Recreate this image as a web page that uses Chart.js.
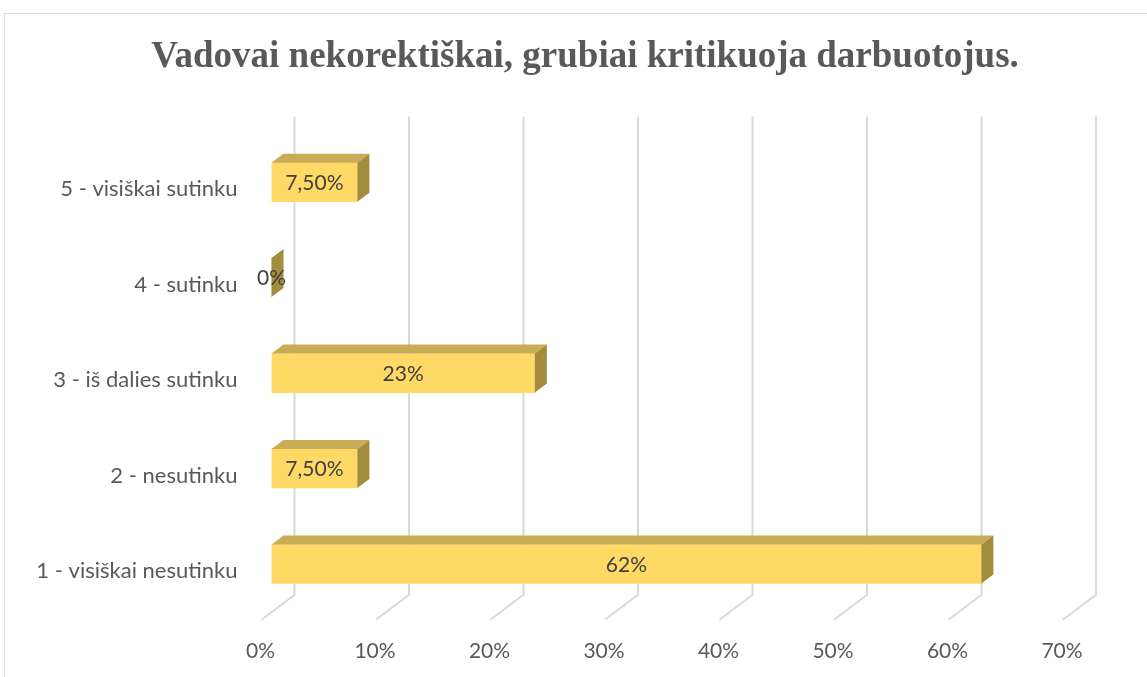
<!DOCTYPE html>
<html>
<head>
<meta charset="utf-8">
<script src="https://cdn.jsdelivr.net/npm/chart.js@4.4.1/dist/chart.umd.min.js"></script>
<style>
    body { margin: 0; background: #fff; }
</style>
</head>
<body>
<canvas id="surveyChart" width="1147" height="677"></canvas>
<script>
const chartTitle = 'Vadovai nekorektiškai, grubiai kritikuoja darbuotojus.';
const categories = ['5 - visiškai sutinku', '4 - sutinku', '3 - iš dalies sutinku', '2 - nesutinku', '1 - visiškai nesutinku'];
const values = [7.5, 0, 23, 7.5, 62];
const valueLabels = ['7,50%', '0%', '23%', '7,50%', '62%'];
const xMax = 70;
const xStep = 10;

const frontColor = '#FFD966';
const topColor = '#C9AD56';
const sideColor = '#A48C3F';
const gridColor = '#D9D9D9';

// 3D look: depth of a bar, and of the whole floor
const barDepthX = 12, barDepthY = -9;
const wallOffset = 23;

const bar3d = {
    id: 'bar3d',
    beforeDraw(chart) {
        const ctx = chart.ctx;
        ctx.save();
        ctx.strokeStyle = gridColor;
        ctx.lineWidth = 1;
        ctx.strokeRect(4.5, 13.5, 1300, 800);
        // title, centred a bit right of the canvas like the original
        ctx.font = 'bold 37px "Liberation Serif"';
        ctx.fillStyle = '#595959';
        ctx.textAlign = 'center';
        ctx.textBaseline = 'alphabetic';
        ctx.fillText(chartTitle, 585, 67);
        ctx.restore();
    },
    beforeDatasetsDraw(chart) {
        const ctx = chart.ctx;
        const area = chart.chartArea;
        const xScale = chart.scales.x;
        const wallTop = area.top - 18;
        const floorBack = area.bottom - 17;
        ctx.save();
        ctx.strokeStyle = gridColor;
        ctx.lineWidth = 2;
        for (let v = 0; v <= xMax; v += xStep) {
            const xb = xScale.getPixelForValue(v) + wallOffset;
            ctx.beginPath();
            ctx.moveTo(xb, wallTop);
            ctx.lineTo(xb, floorBack);
            ctx.lineTo(xb - 33, floorBack + 25);
            ctx.stroke();
        }
        ctx.restore();
    },
    afterDatasetsDraw(chart) {
        const ctx = chart.ctx;
        const bars = chart.getDatasetMeta(0).data;
        ctx.save();
        bars.forEach(bar => {
            const top = bar.y - bar.height / 2;
            const bottom = bar.y + bar.height / 2;
            // top face
            if (bar.x > bar.base) {
                ctx.fillStyle = topColor;
                ctx.beginPath();
                ctx.moveTo(bar.base, top);
                ctx.lineTo(bar.x, top);
                ctx.lineTo(bar.x + barDepthX, top + barDepthY);
                ctx.lineTo(bar.base + barDepthX, top + barDepthY);
                ctx.closePath();
                ctx.fill();
            }
            // side face
            ctx.fillStyle = sideColor;
            ctx.beginPath();
            ctx.moveTo(bar.x, top);
            ctx.lineTo(bar.x + barDepthX, top + barDepthY);
            ctx.lineTo(bar.x + barDepthX, bottom + barDepthY);
            ctx.lineTo(bar.x, bottom);
            ctx.closePath();
            ctx.fill();
        });
        ctx.font = '21px Lato';
        ctx.fillStyle = '#404040';
        ctx.textAlign = 'center';
        ctx.textBaseline = 'middle';
        bars.forEach((bar, i) => {
            ctx.fillText(valueLabels[i], (bar.base + bar.x) / 2, bar.y + 1);
        });
        ctx.restore();
    }
};

const ctx = document.getElementById('surveyChart').getContext('2d');
const surveyChart = new Chart(ctx, {
    type: 'bar',
    data: {
        labels: categories,
        datasets: [{
            data: values,
            backgroundColor: frontColor,
            barThickness: 39
        }]
    },
    options: {
        indexAxis: 'y',
        responsive: false,
        animation: false,
        layout: {
            padding: { left: 20, right: 74, top: 134.4, bottom: 0 }
        },
        plugins: {
            legend: { display: false },
            tooltip: { enabled: false },
            title: { display: false }
        },
        scales: {
            x: {
                min: 0,
                max: xMax,
                grid: { display: false, drawTicks: false },
                border: { display: false },
                ticks: {
                    stepSize: xStep,
                    color: '#595959',
                    font: { family: 'Lato', size: 21 },
                    labelOffset: -11,
                    padding: 27,
                    callback: v => v + '%'
                },
                afterFit(scale) { scale.height = 65.3; }
            },
            y: {
                grid: { display: false, drawTicks: false },
                border: { display: false },
                ticks: {
                    color: '#595959',
                    font: { family: 'Lato', size: 22 },
                    padding: 34,
                    labelOffset: 7
                },
                afterFit(scale) { scale.width = 251.5; }
            }
        }
    },
    plugins: [bar3d]
});
</script>
</body>
</html>
